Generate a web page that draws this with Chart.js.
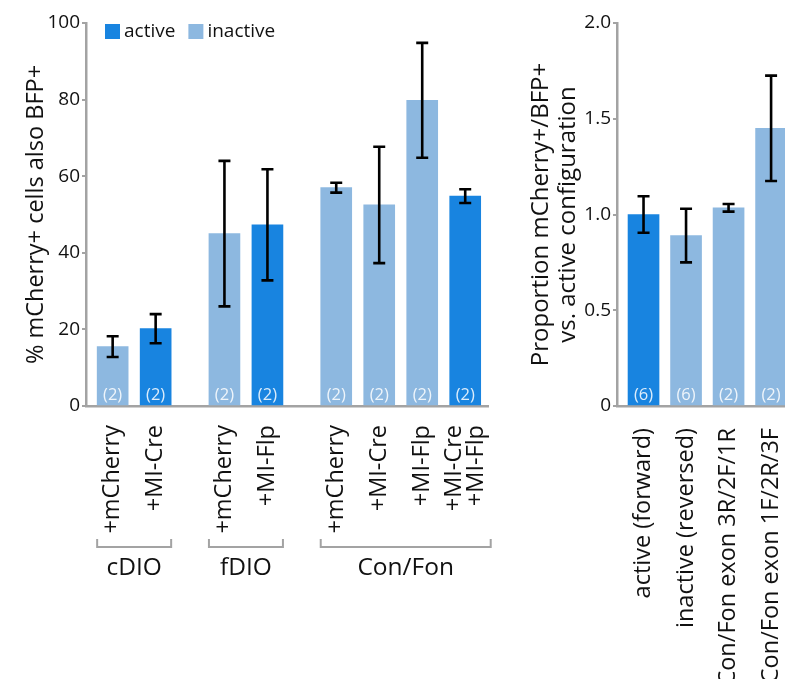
<!DOCTYPE html>
<html>
<head>
<meta charset="utf-8">
<script src="https://cdn.jsdelivr.net/npm/chart.js@4.4.1/dist/chart.umd.min.js"></script>
<style>
  html, body { margin: 0; padding: 0; background: #fff; overflow: hidden; width: 785px; height: 679px; }
  #left { position: absolute; left: 0; top: 0; }
  #right { position: absolute; left: 500px; top: 0; }
</style>
</head>
<body>
<canvas id="left" width="508" height="679"></canvas>
<canvas id="right" width="320" height="679"></canvas>
<script>
// ---- % mCherry+ cells also BFP+, per construct ----
const constructLabels = ['+mCherry', '+MI-Cre', '+mCherry', '+MI-Flp', '+mCherry', '+MI-Cre', '+MI-Flp', ['+MI-Cre', '+MI-Flp']];
const constructGroup = [0, 0, 1, 1, 2, 2, 2, 2];
const groupNames = ['cDIO', 'fDIO', 'Con/Fon'];
const pctBfp = [15.5, 20.2, 45.0, 47.3, 57.0, 52.5, 79.8, 54.8];
const pctBfpErr = [2.7, 3.8, 19.0, 14.5, 1.3, 15.2, 15.0, 1.8];
const pctState = ['inactive', 'active', 'inactive', 'active', 'inactive', 'inactive', 'inactive', 'active'];
const pctN = [2, 2, 2, 2, 2, 2, 2, 2];
const pctTicks = [0, 20, 40, 60, 80, 100];

// ---- proportion vs. active configuration ----
const configLabels = ['active (forward)', 'inactive (reversed)', 'Con/Fon exon 3R/2F/1R', 'Con/Fon exon 1F/2R/3F'];
const ratio = [1.0, 0.89, 1.035, 1.45];
const ratioErr = [0.095, 0.14, 0.02, 0.275];
const ratioState = ['active', 'inactive', 'inactive', 'inactive'];
const ratioN = [6, 6, 2, 2];
const ratioTicks = [0, 0.5, 1.0, 1.5, 2.0];

const seriesNames = ['active', 'inactive'];

// ---- styling ----
const FONT = "'Open Sans', 'DejaVu Sans', sans-serif";
const COLORS = { active: '#1884e0', inactive: '#8db8e0' };
const AXIS = '#a3a3a3';
const INK = '#111111';
const BAR_W = 31;
const GROUP_GAP = 0.6;
const LABEL_SIZE = 23.5;
const TITLE_SIZE = 24;

Chart.defaults.font.family = FONT;
Chart.defaults.color = INK;

// bar centres along a linear x axis: one unit per bar, extra gap between groups
const constructX = constructGroup.map((g, i) => i + g * GROUP_GAP);
const configX = configLabels.map((_, i) => i);

// error bars + sample-size labels, drawn from each bar element
const errorBarPlugin = {
  id: 'errorBars',
  afterDatasetsDraw(chart, args, opts) {
    const { ctx, scales: { y } } = chart;
    const meta = chart.getDatasetMeta(0);
    ctx.save();
    meta.data.forEach((bar, i) => {
      const v = opts.values[i], e = opts.errors[i];
      const yHi = y.getPixelForValue(v + e);
      const yLo = y.getPixelForValue(v - e);
      ctx.strokeStyle = '#000';
      ctx.lineWidth = 2.6;
      ctx.beginPath();
      ctx.moveTo(bar.x, yHi); ctx.lineTo(bar.x, yLo);
      ctx.moveTo(bar.x - 6, yHi); ctx.lineTo(bar.x + 6, yHi);
      ctx.moveTo(bar.x - 6, yLo); ctx.lineTo(bar.x + 6, yLo);
      ctx.stroke();
      ctx.fillStyle = 'rgba(255,255,255,0.85)';
      ctx.font = '16.5px ' + FONT;
      ctx.textAlign = 'center';
      ctx.textBaseline = 'middle';
      ctx.fillText('(' + opts.counts[i] + ')', bar.x, y.getPixelForValue(0) - 11);
    });
    ctx.restore();
  }
};

// legend swatches in the top-left of the plot
const legendPlugin = {
  id: 'swatchLegend',
  afterDraw(chart, args, opts) {
    if (!opts.show) return;
    const { ctx, chartArea } = chart;
    ctx.save();
    ctx.font = '19px ' + FONT;
    ctx.textBaseline = 'middle';
    ctx.textAlign = 'left';
    let x = chartArea.left + 19;
    const top = chartArea.top + 1;
    seriesNames.forEach(name => {
      ctx.fillStyle = COLORS[name];
      ctx.fillRect(x, top, 15, 15);
      ctx.fillStyle = INK;
      ctx.fillText(name, x + 19, top + 7.5);
      x += 19 + ctx.measureText(name).width + 13;
    });
    ctx.restore();
  }
};

// brackets and names under the construct groups
const groupPlugin = {
  id: 'groupBrackets',
  afterDraw(chart, args, opts) {
    if (!opts.show) return;
    const { ctx, scales: { x } } = chart;
    ctx.save();
    groupNames.forEach((name, g) => {
      const idx = constructGroup.map((gg, i) => gg === g ? i : -1).filter(i => i >= 0);
      const first = idx[0], last = idx[idx.length - 1];
      const extra = Array.isArray(constructLabels[last]) ? 10 : 0;
      const xl = x.getPixelForValue(constructX[first]) - BAR_W / 2;
      const xr = x.getPixelForValue(constructX[last]) + BAR_W / 2 + extra;
      const yb = 547;
      ctx.strokeStyle = AXIS;
      ctx.lineWidth = 2;
      ctx.beginPath();
      ctx.moveTo(xl, yb - 8); ctx.lineTo(xl, yb); ctx.lineTo(xr, yb); ctx.lineTo(xr, yb - 8);
      ctx.stroke();
      ctx.fillStyle = INK;
      ctx.font = '24.5px ' + FONT;
      ctx.textAlign = 'center';
      ctx.textBaseline = 'alphabetic';
      ctx.fillText(name, (xl + xr) / 2, 575);
    });
    ctx.restore();
  }
};

function yAxis(min, max, tickVals, fmt, title, titleSize, titlePad, lineHeight, width) {
  return {
    min, max,
    afterBuildTicks: s => { s.ticks = tickVals.map(v => ({ value: v })); },
    afterFit: s => { s.width = width; },
    ticks: { font: { size: 19 }, color: INK, padding: 2, callback: fmt },
    grid: { drawOnChartArea: false, drawTicks: true, tickLength: 4, color: AXIS, lineWidth: 2 },
    border: { color: AXIS, width: 2.5 },
    title: { display: true, text: title, color: INK, font: { size: titleSize, lineHeight }, padding: { top: titlePad, bottom: 0 } }
  };
}

function xAxis(min, max, positions, labels, pad) {
  return {
    type: 'linear', min, max, offset: false,
    afterBuildTicks: s => {
      // multi-line labels are centred on their bar
      s.ticks = positions.map((v, i) => ({ value: Array.isArray(labels[i]) ? v - 0.244 : v }));
    },
    afterFit: s => { s.height = 273; s.paddingLeft = 0; s.paddingRight = 0; },
    ticks: {
      autoSkip: false, minRotation: 90, maxRotation: 90, padding: pad,
      font: { size: LABEL_SIZE, lineHeight: 0.9 }, color: INK,
      callback: (v, i) => labels[i]
    },
    grid: { display: false, drawTicks: false },
    border: { color: AXIS, width: 2.5 }
  };
}

new Chart(document.getElementById('left'), {
  type: 'bar',
  data: {
    datasets: [{
      data: constructX.map((x, i) => ({ x, y: pctBfp[i] })),
      backgroundColor: pctState.map(s => COLORS[s]),
      barThickness: BAR_W
    }]
  },
  options: {
    responsive: false, animation: false,
    layout: { padding: { left: 0, top: 23, right: 20, bottom: 0 } },
    plugins: {
      legend: { display: false }, tooltip: { enabled: false },
      errorBars: { values: pctBfp, errors: pctBfpErr, counts: pctN },
      swatchLegend: { show: true },
      groupBrackets: { show: true }
    },
    scales: {
      x: xAxis(-0.62, 8.73, constructX, constructLabels, 19),
      y: yAxis(0, 100, pctTicks, v => String(v), '% mCherry+ cells also BFP+', 23.5, 22.5, 1.2, 86)
    }
  },
  plugins: [errorBarPlugin, legendPlugin, groupPlugin]
});

new Chart(document.getElementById('right'), {
  type: 'bar',
  data: {
    datasets: [{
      data: configX.map((x, i) => ({ x, y: ratio[i] })),
      backgroundColor: ratioState.map(s => COLORS[s]),
      barThickness: BAR_W
    }]
  },
  options: {
    responsive: false, animation: false,
    layout: { padding: { left: 0, top: 23, right: 20, bottom: 0 } },
    plugins: {
      legend: { display: false }, tooltip: { enabled: false },
      errorBars: { values: ratio, errors: ratioErr, counts: ratioN },
      swatchLegend: { show: false },
      groupBrackets: { show: false }
    },
    scales: {
      x: xAxis(-0.624, 3.68, configX, configLabels, 22),
      y: yAxis(0, 2, ratioTicks, v => (v === 0 ? '0' : v.toFixed(1)),
        ['Proportion mCherry+/BFP+', 'vs. active configuration'], TITLE_SIZE, 27.5, 1.12, 117)
    }
  },
  plugins: [errorBarPlugin, legendPlugin, groupPlugin]
});
</script>
</body>
</html>
